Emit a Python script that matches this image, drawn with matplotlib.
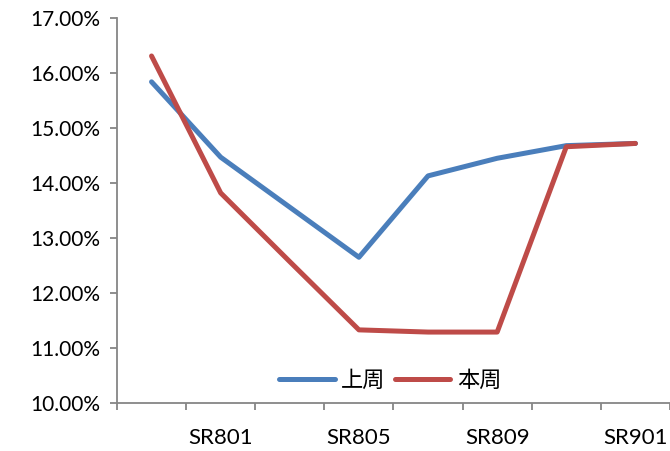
import matplotlib.pyplot as plt
from matplotlib.ticker import FuncFormatter, FixedLocator
import numpy as np

plt.rcParams['font.family'] = ['Lato', 'Noto Sans CJK SC', 'DejaVu Sans']

contracts = ['SR709', 'SR801', 'SR803', 'SR805', 'SR807', 'SR809', 'SR811', 'SR901']
last_week = [15.84, 14.47, 13.56, 12.65, 14.13, 14.45, 14.68, 14.72]   # 上周
this_week = [16.31, 13.82, 12.57, 11.33, 11.29, 11.29, 14.66, 14.72]   # 本周

blue = '#4A7EBB'
red = '#BE4B48'
axis_grey = '#868686'

fig = plt.figure(figsize=(6.70, 4.51), dpi=100)
ax = fig.add_axes([0.1746, 0.1064, 0.8254, 0.8536])

x = np.arange(len(contracts))
ax.plot(x, last_week, color=blue, lw=3.6, solid_capstyle='round',
        solid_joinstyle='round', label='上周')
ax.plot(x, this_week, color=red, lw=3.6, solid_capstyle='round',
        solid_joinstyle='round', label='本周')

ax.set_xlim(-0.5, len(contracts) - 0.5)
ax.set_ylim(10, 17)
ax.set_yticks(np.arange(10, 17.1, 1))
ax.yaxis.set_major_formatter(FuncFormatter(lambda v, p: '%.2f%%' % v))

# boundaries carry the tick marks, every other contract gets a label
ax.xaxis.set_major_locator(FixedLocator(np.arange(-0.5, len(contracts), 1)))
ax.xaxis.set_major_formatter(FuncFormatter(lambda v, p: ''))
lab_idx = [1, 3, 5, 7]
ax.xaxis.set_minor_locator(FixedLocator(lab_idx))
ax.xaxis.set_minor_formatter(FuncFormatter(lambda v, p: contracts[int(round(v))]))

for s in ['top', 'right']:
    ax.spines[s].set_visible(False)
for s in ['left', 'bottom']:
    ax.spines[s].set_color(axis_grey)
    ax.spines[s].set_linewidth(1.3)

ax.tick_params(axis='y', which='major', length=5, width=1.3, color=axis_grey,
               labelsize=15, pad=7, labelcolor='black')
ax.tick_params(axis='x', which='major', length=5, width=1.3, color=axis_grey,
               direction='out')
ax.tick_params(axis='x', which='minor', length=0, labelsize=16, pad=18,
               labelcolor='black')

leg = ax.legend(loc='center', bbox_to_anchor=(0.494, 0.06), ncol=2,
                frameon=False, handlelength=2.5,
                handletextpad=0.3, columnspacing=0.4,
                prop={'family': ['Noto Sans CJK SC', 'DejaVu Sans'], 'size': 16})

fig.savefig('out.png', dpi=100)
